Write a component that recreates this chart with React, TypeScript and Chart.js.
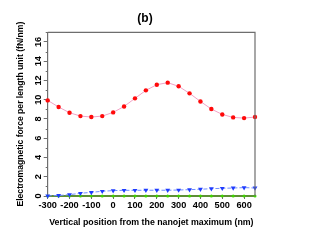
import React, { useEffect, useRef } from "react";
import { Chart, registerables } from "chart.js";

Chart.register(...registerables);

// Vertical position from the nanojet maximum (nm)
const positions = [-300, -250, -200, -150, -100, -50, 0, 50, 100, 150, 200, 250, 300, 350, 400, 450, 500, 550, 600, 650];
// Series values (fN/nm)
const redSeries = [9.93, 9.24, 8.65, 8.3, 8.2, 8.3, 8.68, 9.3, 10.14, 10.97, 11.56, 11.77, 11.39, 10.66, 9.82, 9.03, 8.47, 8.16, 8.09, 8.2];
const blueSeries = [0.02, 0.05, 0.14, 0.28, 0.38, 0.49, 0.56, 0.59, 0.59, 0.6, 0.6, 0.6, 0.62, 0.66, 0.7, 0.76, 0.8, 0.83, 0.87, 0.83];
const greenSeries = [0, 0, 0, 0, 0, 0, 0, 0, 0, 0, 0, 0, 0, 0, 0, 0, 0, 0, 0, 0];

const xMin = -300;
const xMax = 650;
const yMin = 0;
const yMax = 17;
const titleText = "(b)";
const xTitle = "Vertical position from the nanojet maximum (nm)";
const yTitle = "Electromagnetic force per length unit (fN/nm)";
const yMinorTicks = [1, 3, 5, 7, 9, 11, 13, 15, 17];

const FONT = "'Liberation Sans', Arial, sans-serif";
const AXIS_GRAY = "#6e6e6e";

const toPoints = (vals: number[]) => positions.map((x, i) => ({ x, y: vals[i] }));

const framePlugin = {
  id: "frameAndTitle",
  afterDraw(chart: any) {
    const { ctx, chartArea } = chart;
    const yScale = chart.scales.y;
    ctx.save();
    ctx.strokeStyle = AXIS_GRAY;
    ctx.lineWidth = 1.2;
    ctx.beginPath();
    ctx.moveTo(chartArea.left, chartArea.top);
    ctx.lineTo(chartArea.right, chartArea.top);
    ctx.lineTo(chartArea.right, chartArea.bottom);
    ctx.stroke();
    ctx.lineWidth = 1;
    ctx.beginPath();
    yMinorTicks.forEach((v) => {
      const py = Math.round(yScale.getPixelForValue(v)) + 0.5;
      ctx.moveTo(chartArea.left - 2, py);
      ctx.lineTo(chartArea.left, py);
    });
    ctx.stroke();
    ctx.fillStyle = "#000";
    ctx.font = `bold 12px ${FONT}`;
    ctx.textAlign = "center";
    ctx.textBaseline = "middle";
    ctx.fillText(titleText, 145, 19);
    ctx.restore();
  },
};

export default function App() {
  const canvasRef = useRef<HTMLCanvasElement | null>(null);

  useEffect(() => {
    document.body.style.margin = "0";
    const canvas = canvasRef.current;
    if (!canvas) return;
    const chart = new Chart(canvas, {
      type: "line",
      data: {
        datasets: [
          {
            label: "red",
            data: toPoints(redSeries),
            borderColor: "#f2a2c6",
            borderWidth: 1,
            backgroundColor: "#ff0000",
            pointBackgroundColor: "#ff0a0a",
            pointBorderColor: "#ff0a0a",
            pointBorderWidth: 0,
            pointRadius: 2.2,
            pointStyle: "circle",
            tension: 0,
            clip: false as any,
          },
          {
            label: "blue",
            data: toPoints(blueSeries),
            borderColor: "#6f8cff",
            borderWidth: 1,
            borderDash: [4, 2],
            pointBackgroundColor: "#1f3cff",
            pointBorderColor: "#1f3cff",
            pointBorderWidth: 0,
            pointRadius: 2.8,
            pointStyle: "triangle",
            pointRotation: 180,
            tension: 0,
            clip: false as any,
          },
          {
            label: "green",
            data: toPoints(greenSeries),
            borderColor: "#5e8f35",
            borderWidth: 2,
            pointBackgroundColor: "#3fd200",
            pointBorderColor: "#3fd200",
            pointBorderWidth: 0,
            pointRadius: 1.5,
            pointStyle: "circle",
            tension: 0,
            clip: false as any,
          },
        ],
      },
      options: {
        animation: false,
        responsive: false,
        layout: { padding: { top: 32.3, right: 72, left: 0, bottom: 0 } },
        plugins: {
          legend: { display: false },
          tooltip: { enabled: false },
          title: { display: false },
        },
        scales: {
          x: {
            type: "linear",
            min: xMin,
            max: xMax,
            afterFit: (s: any) => {
              s.height = 49;
            },
            ticks: {
              stepSize: 100,
              includeBounds: false,
              color: "#000",
              font: { family: FONT, size: 9.2, weight: "bold" },
              padding: 0.5,
              maxRotation: 0,
              autoSkip: false,
            },
            grid: {
              drawOnChartArea: false,
              drawTicks: true,
              tickLength: 3,
              tickColor: AXIS_GRAY,
            },
            border: { display: true, color: AXIS_GRAY, width: 1.2 },
            title: {
              display: true,
              text: xTitle,
              color: "#000",
              font: { family: FONT, size: 8.8, weight: "bold" },
              padding: { top: 0, bottom: 16.7 },
            },
          },
          y: {
            type: "linear",
            min: yMin,
            max: yMax,
            afterFit: (s: any) => {
              s.width = 47.7;
            },
            ticks: {
              stepSize: 2,
              includeBounds: false,
              color: "#000",
              font: { family: FONT, size: 9.2, weight: "bold" },
              padding: 0,
              minRotation: 90,
              maxRotation: 90,
              crossAlign: "center",
            },
            grid: {
              drawOnChartArea: false,
              drawTicks: true,
              tickLength: 4,
              tickColor: AXIS_GRAY,
            },
            border: { display: true, color: AXIS_GRAY, width: 1.2 },
            title: {
              display: true,
              text: yTitle,
              color: "#000",
              font: { family: FONT, size: 8.6, weight: "bold" },
              padding: { top: 15.8, bottom: 0 },
            },
          },
        },
      } as any,
      plugins: [framePlugin],
    });
    return () => chart.destroy();
  }, []);

  return (
    <div style={{ position: "absolute", left: 0, top: 0, width: 327, height: 245 }}>
      <canvas ref={canvasRef} width={327} height={245} style={{ display: "block" }} />
    </div>
  );
}
